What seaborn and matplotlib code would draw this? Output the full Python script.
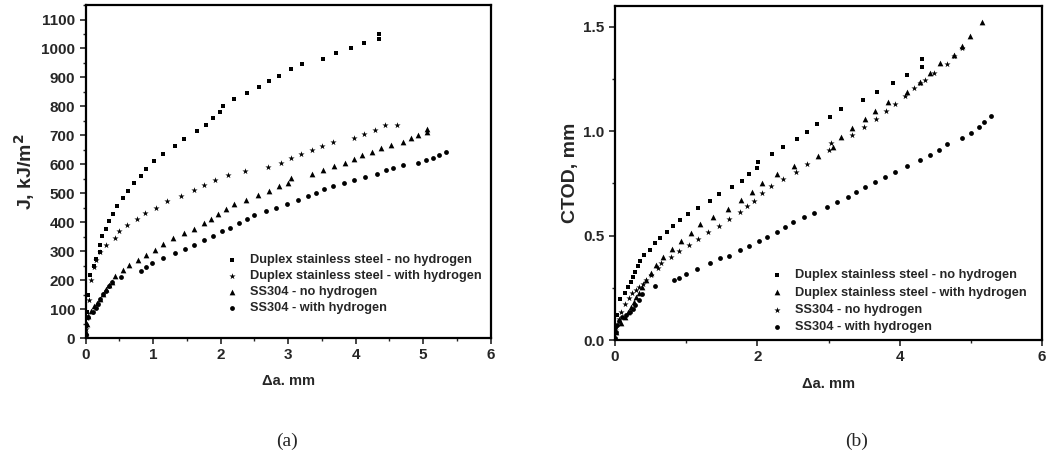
import numpy as np
import pandas as pd
import seaborn as sns
import matplotlib.pyplot as plt
from matplotlib.ticker import MultipleLocator

# === Panel (a): J vs crack growth ===
a_dup_no_x = [0.0, 0.02, 0.04, 0.065, 0.13, 0.16, 0.21, 0.22, 0.25, 0.30, 0.34, 0.40, 0.47, 0.55, 0.63,
              0.72, 0.82, 0.90, 1.02, 1.15, 1.33, 1.46, 1.65, 1.79, 1.89, 1.99, 2.03, 2.20, 2.39, 2.57,
              2.72, 2.86, 3.04, 3.20, 3.51, 3.71, 3.93, 4.12, 4.34, 4.34]
a_dup_no_y = [40, 90, 150, 216, 250, 273, 297, 322, 351, 378, 404, 430, 456, 482, 508,
              534, 560, 585, 611, 637, 663, 689, 715, 736, 759, 782, 801, 825, 845, 866,
              889, 906, 929, 947, 965, 984, 1001, 1019, 1033, 1050]

a_dup_h_x = [0.0, 0.02, 0.05, 0.08, 0.12, 0.16, 0.22, 0.30, 0.43, 0.50, 0.62, 0.76, 0.88, 1.04, 1.20,
             1.41, 1.60, 1.75, 1.91, 2.11, 2.36, 2.70, 2.90, 3.04, 3.19, 3.36, 3.50, 3.67, 3.97, 4.13,
             4.29, 4.44, 4.61]
a_dup_h_y = [30, 70, 130, 200, 245, 270, 297, 322, 346, 370, 389, 412, 433, 450, 472,
             491, 510, 528, 545, 562, 576, 591, 606, 622, 635, 649, 664, 678, 692, 704,
             718, 736, 736]

a_ss_no_x = [0.0, 0.02, 0.04, 0.08, 0.13, 0.17, 0.21, 0.26, 0.30, 0.35, 0.39, 0.43, 0.55, 0.65, 0.78,
             0.90, 1.03, 1.15, 1.29, 1.46, 1.60, 1.75, 1.86, 1.96, 2.08, 2.20, 2.37, 2.56, 2.72, 2.86,
             3.00, 3.04, 3.35, 3.52, 3.68, 3.84, 3.97, 4.10, 4.24, 4.38, 4.52, 4.70, 4.82, 4.93, 5.06,
             5.06]
a_ss_no_y = [20, 50, 77, 95, 110, 122, 135, 152, 170, 182, 193, 214, 236, 251, 270,
             285, 305, 326, 345, 362, 377, 397, 412, 430, 445, 462, 476, 493, 508, 524,
             536, 551, 565, 580, 595, 606, 617, 632, 643, 655, 666, 678, 690, 701, 712,
             722]

a_ss_h_x = [0.0, 0.006, 0.04, 0.11, 0.15, 0.19, 0.22, 0.26, 0.30, 0.35, 0.39, 0.53, 0.82, 0.89, 0.98,
            1.14, 1.32, 1.47, 1.60, 1.75, 1.88, 2.02, 2.14, 2.27, 2.39, 2.50, 2.67, 2.82, 2.98, 3.14,
            3.30, 3.41, 3.53, 3.67, 3.82, 3.97, 4.14, 4.31, 4.45, 4.56, 4.70, 4.93, 5.04, 5.14, 5.24,
            5.34]
a_ss_h_y = [10, 46, 71, 89, 104, 118, 135, 152, 164, 179, 193, 212, 230, 245, 260,
            277, 293, 306, 320, 337, 352, 368, 380, 397, 412, 424, 438, 450, 464, 476,
            490, 501, 513, 524, 536, 545, 557, 568, 580, 586, 597, 605, 614, 622, 632,
            641]

# === Panel (b): CTOD vs crack growth ===
b_dup_no_x = [0.0, 0.03, 0.07, 0.14, 0.18, 0.22, 0.25, 0.28, 0.32, 0.35, 0.41, 0.49, 0.56, 0.63, 0.73,
              0.81, 0.91, 1.03, 1.16, 1.33, 1.46, 1.64, 1.78, 1.88, 1.99, 2.01, 2.20, 2.36, 2.56, 2.70,
              2.84, 3.02, 3.18, 3.48, 3.68, 3.90, 4.10, 4.32, 4.32]
b_dup_no_y = [0.05, 0.12, 0.195, 0.223, 0.255, 0.279, 0.303, 0.327, 0.354, 0.378, 0.407, 0.431, 0.463,
              0.487, 0.515, 0.545, 0.574, 0.603, 0.633, 0.665, 0.697, 0.731, 0.761, 0.794, 0.821,
              0.853, 0.888, 0.925, 0.960, 0.997, 1.032, 1.069, 1.105, 1.148, 1.188, 1.231, 1.268,
              1.308, 1.343]

b_dup_h_x = [0.0, 0.02, 0.09, 0.14, 0.18, 0.22, 0.26, 0.30, 0.34, 0.38, 0.43, 0.50, 0.58, 0.67, 0.80,
             0.93, 1.07, 1.20, 1.37, 1.59, 1.77, 1.92, 2.07, 2.27, 2.52, 2.85, 3.06, 3.18, 3.33, 3.51,
             3.65, 3.83, 4.10, 4.28, 4.43, 4.57, 4.77, 4.88, 4.99, 5.16]
b_dup_h_y = [0.01, 0.04, 0.08, 0.111, 0.135, 0.159, 0.183, 0.204, 0.223, 0.255, 0.287, 0.322, 0.359,
             0.399, 0.435, 0.474, 0.513, 0.553, 0.59, 0.627, 0.67, 0.71, 0.75, 0.793, 0.834, 0.88,
             0.925, 0.97, 1.013, 1.056, 1.096, 1.14, 1.188, 1.236, 1.276, 1.324, 1.364, 1.407,
             1.455, 1.523]

b_ss_no_x = [0.01, 0.05, 0.09, 0.14, 0.19, 0.24, 0.29, 0.34, 0.39, 0.44, 0.51, 0.60, 0.65, 0.79, 0.90,
             1.04, 1.16, 1.30, 1.46, 1.60, 1.75, 1.86, 1.95, 2.07, 2.19, 2.36, 2.55, 2.70, 3.00, 3.03,
             3.33, 3.50, 3.67, 3.81, 3.94, 4.07, 4.20, 4.28, 4.35, 4.48, 4.66, 4.77, 4.88]
b_ss_no_y = [0.06, 0.1, 0.135, 0.17, 0.2, 0.225, 0.24, 0.255, 0.268, 0.287, 0.311, 0.343, 0.367,
             0.399, 0.427, 0.455, 0.483, 0.515, 0.547, 0.577, 0.611, 0.641, 0.667, 0.705, 0.737,
             0.77, 0.806, 0.84, 0.909, 0.941, 0.981, 1.021, 1.057, 1.097, 1.127, 1.167, 1.204,
             1.231, 1.244, 1.279, 1.321, 1.359, 1.396]

b_ss_h_x = [0.0, 0.01, 0.03, 0.06, 0.1, 0.15, 0.21, 0.25, 0.28, 0.33, 0.38, 0.56, 0.83, 0.90, 1.00,
            1.15, 1.33, 1.48, 1.60, 1.75, 1.88, 2.02, 2.14, 2.27, 2.39, 2.50, 2.66, 2.80, 2.98, 3.12,
            3.28, 3.39, 3.51, 3.65, 3.80, 3.93, 4.11, 4.28, 4.43, 4.55, 4.67, 4.88, 5.00, 5.11, 5.18,
            5.29]
b_ss_h_y = [0.01, 0.04, 0.07, 0.09, 0.11, 0.12, 0.135, 0.15, 0.167, 0.19, 0.22, 0.258, 0.287, 0.298,
            0.314, 0.34, 0.367, 0.391, 0.403, 0.431, 0.45, 0.474, 0.494, 0.518, 0.539, 0.563, 0.587,
            0.609, 0.635, 0.659, 0.683, 0.707, 0.731, 0.755, 0.781, 0.805, 0.833, 0.861, 0.885,
            0.909, 0.936, 0.965, 0.992, 1.021, 1.045, 1.072]

labels = ["Duplex stainless steel - no hydrogen",
          "Duplex stainless steel - with hydrogen",
          "SS304 - no hydrogen",
          "SS304 - with hydrogen"]

sns.set_style("ticks")
plt.rcParams["font.family"] = ["Liberation Sans", "DejaVu Sans"]
plt.rcParams["font.weight"] = "bold"
plt.rcParams["mathtext.default"] = "bf"

MSIZE = {"s": 12, "*": 22, "^": 17, "o": 12}


def draw_panel(ax, series, markers):
    for (x, y), lab, m in zip(series, labels, markers):
        df = pd.DataFrame({"x": x, "y": y})
        sns.scatterplot(data=df, x="x", y="y", ax=ax, marker=m, color="black",
                        s=MSIZE[m], linewidth=0, label=lab)
    for sp in ax.spines.values():
        sp.set_visible(True)
        sp.set_linewidth(1.6)
        sp.set_color("black")
    ax.tick_params(which="major", direction="out", length=4, width=1.2,
                   labelsize=11)
    ax.tick_params(which="minor", direction="out", length=2.5, width=1)
    for t in ax.get_xticklabels() + ax.get_yticklabels():
        t.set_fontweight("bold")


fig = plt.figure(figsize=(10.49, 4.75), dpi=100)
ax1 = fig.add_axes([0.0816, 0.2884, 0.3862, 0.701])
ax2 = fig.add_axes([0.5863, 0.2842, 0.4070, 0.704])

draw_panel(ax1, [(a_dup_no_x, a_dup_no_y), (a_dup_h_x, a_dup_h_y),
                 (a_ss_no_x, a_ss_no_y), (a_ss_h_x, a_ss_h_y)],
           ["s", "*", "^", "o"])
ax1.set_xlim(0, 6)
ax1.set_ylim(0, 1150)
ax1.xaxis.set_major_locator(MultipleLocator(1))
ax1.xaxis.set_minor_locator(MultipleLocator(0.5))
ax1.yaxis.set_major_locator(MultipleLocator(100))
ax1.yaxis.set_minor_locator(MultipleLocator(50))
ax1.set_xlabel("\u0394a. mm", fontsize=10.5, fontweight="bold", labelpad=8)
ax1.set_ylabel("J, kJ/m$^2$", fontsize=14, fontweight="bold", labelpad=3)

draw_panel(ax2, [(b_dup_no_x, b_dup_no_y), (b_dup_h_x, b_dup_h_y),
                 (b_ss_no_x, b_ss_no_y), (b_ss_h_x, b_ss_h_y)],
           ["s", "^", "*", "o"])
ax2.set_xlim(0, 6)
ax2.set_ylim(0, 1.6)
ax2.xaxis.set_major_locator(MultipleLocator(2))
ax2.xaxis.set_minor_locator(MultipleLocator(1))
ax2.yaxis.set_major_locator(MultipleLocator(0.5))
ax2.yaxis.set_minor_locator(MultipleLocator(0.25))
ax2.set_xlabel("\u0394a. mm", fontsize=10.5, fontweight="bold", labelpad=9)
ax2.set_ylabel("CTOD, mm", fontsize=14, fontweight="bold", labelpad=3)

leg_kw = dict(frameon=False, borderpad=0, handlelength=1.0, handletextpad=0.9,
              prop={"weight": "bold", "size": 9.2}, markerscale=1.0,
              bbox_transform=fig.transFigure, loc="upper left")
ax1.legend(bbox_to_anchor=(219 / 1049, 1 - 248 / 475), labelspacing=0.3, **leg_kw)
ax2.legend(bbox_to_anchor=(764 / 1049, 1 - 263 / 475), labelspacing=0.42, **leg_kw)

fig.text(287 / 1049, 1 - 441 / 475, "(a)", ha="center", va="center",
         fontsize=14, family="Liberation Serif", fontweight="normal")
fig.text(857 / 1049, 1 - 441 / 475, "(b)", ha="center", va="center",
         fontsize=14, family="Liberation Serif", fontweight="normal")

fig.savefig("out.png", dpi=100)
